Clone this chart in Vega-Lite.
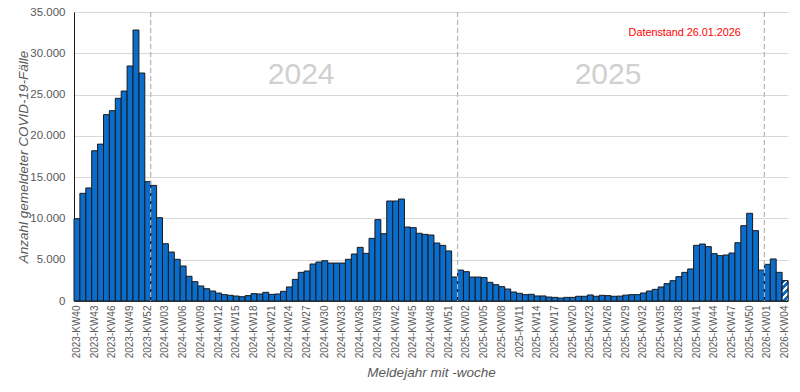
{
  "$schema": "https://vega.github.io/schema/vega-lite/v6.json",
  "width": 714,
  "height": 289,
  "autosize": "none",
  "padding": {"left": 74, "top": 12, "right": 12, "bottom": 91},
  "config": {
    "locale": {"number": {"decimal": ",", "thousands": ".", "grouping": [3], "currency": ["", " €"]}},
    "view": {"stroke": null},
    "font": "Liberation Sans"
  },
  "datasets": {
    "faelle": [
      {"w": "2023-KW40", "n": 9970}, {"w": "2023-KW41", "n": 13040}, {"w": "2023-KW42", "n": 13690}, {"w": "2023-KW43", "n": 18200},
      {"w": "2023-KW44", "n": 19000}, {"w": "2023-KW45", "n": 22570}, {"w": "2023-KW46", "n": 23050}, {"w": "2023-KW47", "n": 24550},
      {"w": "2023-KW48", "n": 25430}, {"w": "2023-KW49", "n": 28460}, {"w": "2023-KW50", "n": 32820}, {"w": "2023-KW51", "n": 27610},
      {"w": "2023-KW52", "n": 14450},
      {"w": "2024-KW01", "n": 14000}, {"w": "2024-KW02", "n": 10090}, {"w": "2024-KW03", "n": 6940}, {"w": "2024-KW04", "n": 5930},
      {"w": "2024-KW05", "n": 5050}, {"w": "2024-KW06", "n": 4240}, {"w": "2024-KW07", "n": 2990}, {"w": "2024-KW08", "n": 2340},
      {"w": "2024-KW09", "n": 1820}, {"w": "2024-KW10", "n": 1490}, {"w": "2024-KW11", "n": 1210}, {"w": "2024-KW12", "n": 960},
      {"w": "2024-KW13", "n": 770}, {"w": "2024-KW14", "n": 690}, {"w": "2024-KW15", "n": 600}, {"w": "2024-KW16", "n": 520},
      {"w": "2024-KW17", "n": 650}, {"w": "2024-KW18", "n": 890}, {"w": "2024-KW19", "n": 850}, {"w": "2024-KW20", "n": 1050},
      {"w": "2024-KW21", "n": 800}, {"w": "2024-KW22", "n": 850}, {"w": "2024-KW23", "n": 1170}, {"w": "2024-KW24", "n": 1700},
      {"w": "2024-KW25", "n": 2620}, {"w": "2024-KW26", "n": 3470}, {"w": "2024-KW27", "n": 3630}, {"w": "2024-KW28", "n": 4480},
      {"w": "2024-KW29", "n": 4720}, {"w": "2024-KW30", "n": 4880}, {"w": "2024-KW31", "n": 4600}, {"w": "2024-KW32", "n": 4600},
      {"w": "2024-KW33", "n": 4600}, {"w": "2024-KW34", "n": 5050}, {"w": "2024-KW35", "n": 5690}, {"w": "2024-KW36", "n": 6500},
      {"w": "2024-KW37", "n": 5770}, {"w": "2024-KW38", "n": 7590}, {"w": "2024-KW39", "n": 9850}, {"w": "2024-KW40", "n": 8150},
      {"w": "2024-KW41", "n": 12110}, {"w": "2024-KW42", "n": 12110}, {"w": "2024-KW43", "n": 12350}, {"w": "2024-KW44", "n": 8960},
      {"w": "2024-KW45", "n": 8880}, {"w": "2024-KW46", "n": 8200}, {"w": "2024-KW47", "n": 8070}, {"w": "2024-KW48", "n": 7990},
      {"w": "2024-KW49", "n": 7020}, {"w": "2024-KW50", "n": 6740}, {"w": "2024-KW51", "n": 6060}, {"w": "2024-KW52", "n": 2910},
      {"w": "2025-KW01", "n": 3750}, {"w": "2025-KW02", "n": 3550}, {"w": "2025-KW03", "n": 2900}, {"w": "2025-KW04", "n": 2900},
      {"w": "2025-KW05", "n": 2850}, {"w": "2025-KW06", "n": 2260}, {"w": "2025-KW07", "n": 1980}, {"w": "2025-KW08", "n": 1740},
      {"w": "2025-KW09", "n": 1450}, {"w": "2025-KW10", "n": 1090}, {"w": "2025-KW11", "n": 930}, {"w": "2025-KW12", "n": 770},
      {"w": "2025-KW13", "n": 810}, {"w": "2025-KW14", "n": 610}, {"w": "2025-KW15", "n": 610}, {"w": "2025-KW16", "n": 480},
      {"w": "2025-KW17", "n": 440}, {"w": "2025-KW18", "n": 360}, {"w": "2025-KW19", "n": 440}, {"w": "2025-KW20", "n": 440},
      {"w": "2025-KW21", "n": 570}, {"w": "2025-KW22", "n": 570}, {"w": "2025-KW23", "n": 730}, {"w": "2025-KW24", "n": 570},
      {"w": "2025-KW25", "n": 690}, {"w": "2025-KW26", "n": 650}, {"w": "2025-KW27", "n": 570}, {"w": "2025-KW28", "n": 590},
      {"w": "2025-KW29", "n": 710}, {"w": "2025-KW30", "n": 770}, {"w": "2025-KW31", "n": 770}, {"w": "2025-KW32", "n": 970},
      {"w": "2025-KW33", "n": 1210}, {"w": "2025-KW34", "n": 1410}, {"w": "2025-KW35", "n": 1700}, {"w": "2025-KW36", "n": 2100},
      {"w": "2025-KW37", "n": 2460}, {"w": "2025-KW38", "n": 2950}, {"w": "2025-KW39", "n": 3470}, {"w": "2025-KW40", "n": 3880},
      {"w": "2025-KW41", "n": 6740}, {"w": "2025-KW42", "n": 6900}, {"w": "2025-KW43", "n": 6580}, {"w": "2025-KW44", "n": 5730},
      {"w": "2025-KW45", "n": 5490}, {"w": "2025-KW46", "n": 5570}, {"w": "2025-KW47", "n": 5810}, {"w": "2025-KW48", "n": 7060},
      {"w": "2025-KW49", "n": 9120}, {"w": "2025-KW50", "n": 10620}, {"w": "2025-KW51", "n": 8520}, {"w": "2025-KW52", "n": 3750},
      {"w": "2026-KW01", "n": 4440}, {"w": "2026-KW02", "n": 5090}, {"w": "2026-KW03", "n": 3470}, {"w": "2026-KW04", "n": 2460}
    ],
    "grenzen": [{"w": "2024-KW01"}, {"w": "2025-KW01"}, {"w": "2026-KW01"}],
    "jahre": [{"w": "2024-KW26", "n": 27400, "t": "2024"}, {"w": "2025-KW26", "n": 27400, "t": "2025"}],
    "stand": [{"w": "2025-KW39", "n": 32450, "t": "Datenstand 26.01.2026"}]
  },
  "layer": [
    {
      "data": {"name": "faelle"},
      "mark": {"type": "bar", "fill": "#0a6ccb", "stroke": "#1a1a1a", "strokeWidth": 1},
      "encoding": {
        "x": {
          "field": "w", "type": "ordinal", "sort": null,
          "scale": {"paddingInner": 0, "paddingOuter": 0},
          "axis": {
            "title": "Meldejahr mit -woche",
            "titleFont": "Liberation Sans", "titleFontSize": 13.5, "titleFontStyle": "italic", "titleFontWeight": "normal", "titleColor": "#595959", "titlePadding": 8,
            "labelAngle": -90, "labelFontSize": 10, "labelColor": "#595959", "labelPadding": 4,
            "ticks": false, "domainColor": "#404040",
            "values": ["2023-KW40", "2023-KW43", "2023-KW46", "2023-KW49", "2023-KW52",
              "2024-KW03", "2024-KW06", "2024-KW09", "2024-KW12", "2024-KW15", "2024-KW18", "2024-KW21", "2024-KW24", "2024-KW27",
              "2024-KW30", "2024-KW33", "2024-KW36", "2024-KW39", "2024-KW42", "2024-KW45", "2024-KW48", "2024-KW51",
              "2025-KW02", "2025-KW05", "2025-KW08", "2025-KW11", "2025-KW14", "2025-KW17", "2025-KW20", "2025-KW23", "2025-KW26",
              "2025-KW29", "2025-KW32", "2025-KW35", "2025-KW38", "2025-KW41", "2025-KW44", "2025-KW47", "2025-KW50",
              "2026-KW01", "2026-KW04"]
          }
        },
        "y": {
          "field": "n", "type": "quantitative",
          "scale": {"domain": [0, 35000], "nice": false},
          "axis": {
            "title": "Anzahl gemeldeter COVID-19-Fälle",
            "titleFont": "Liberation Sans", "titleFontSize": 13.5, "titleFontStyle": "italic", "titleFontWeight": "normal", "titleColor": "#595959", "titlePadding": -1,
            "values": [0, 5000, 10000, 15000, 20000, 25000, 30000, 35000],
            "format": ",.0f", "labelFontSize": 11.5, "labelColor": "#595959", "labelPadding": 9,
            "ticks": false, "domainColor": "#1a1a1a", "gridColor": "#d9d9d9"
          }
        }
      }
    },
    {
      "data": {"name": "faelle"},
      "transform": [{"filter": "datum.w == '2026-KW04'"}],
      "mark": {
        "type": "bar", "stroke": "#1a1a1a", "strokeWidth": 1,
        "fill": {
          "gradient": "linear", "x1": 0, "y1": 0, "x2": 0.36, "y2": 1.2,
          "stops": [
            {"offset": 0, "color": "#0a6ccb"}, {"offset": 0.13, "color": "#0a6ccb"},
            {"offset": 0.13, "color": "#ffffff"}, {"offset": 0.23, "color": "#ffffff"},
            {"offset": 0.23, "color": "#0a6ccb"}, {"offset": 0.38, "color": "#0a6ccb"},
            {"offset": 0.38, "color": "#ffffff"}, {"offset": 0.48, "color": "#ffffff"},
            {"offset": 0.48, "color": "#0a6ccb"}, {"offset": 0.63, "color": "#0a6ccb"},
            {"offset": 0.63, "color": "#ffffff"}, {"offset": 0.73, "color": "#ffffff"},
            {"offset": 0.73, "color": "#0a6ccb"}, {"offset": 0.88, "color": "#0a6ccb"},
            {"offset": 0.88, "color": "#ffffff"}, {"offset": 0.98, "color": "#ffffff"},
            {"offset": 0.98, "color": "#0a6ccb"}, {"offset": 1, "color": "#0a6ccb"}
          ]
        }
      },
      "encoding": {
        "x": {"field": "w", "type": "ordinal", "sort": null},
        "y": {"field": "n", "type": "quantitative"}
      }
    },
    {
      "data": {"name": "grenzen"},
      "mark": {"type": "rule", "color": "#b4b4b4", "strokeWidth": 1.2, "strokeDash": [5, 3]},
      "encoding": {
        "x": {"field": "w", "type": "ordinal", "sort": null, "bandPosition": 0}
      }
    },
    {
      "data": {"name": "jahre"},
      "mark": {"type": "text", "fontSize": 30, "color": "#d0d0d0", "font": "Liberation Sans", "align": "center", "baseline": "middle"},
      "encoding": {
        "x": {"field": "w", "type": "ordinal", "sort": null},
        "y": {"field": "n", "type": "quantitative"},
        "text": {"field": "t"}
      }
    },
    {
      "data": {"name": "stand"},
      "mark": {"type": "text", "fontSize": 10.8, "color": "#ff0000", "font": "Liberation Sans", "align": "center", "baseline": "middle"},
      "encoding": {
        "x": {"field": "w", "type": "ordinal", "sort": null},
        "y": {"field": "n", "type": "quantitative"},
        "text": {"field": "t"}
      }
    }
  ]
}
